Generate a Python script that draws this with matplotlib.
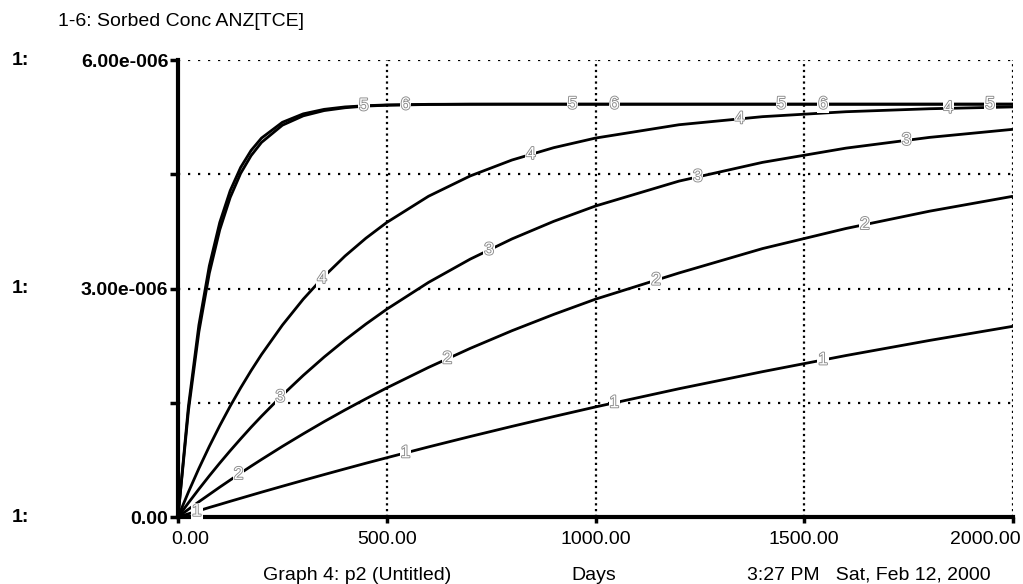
import numpy as np
import matplotlib.pyplot as plt
import matplotlib.patheffects as pe
from matplotlib.transforms import blended_transform_factory

plt.rcParams['font.family'] = ['Liberation Sans', 'DejaVu Sans']

# 数据（单位 1e-6）
days = [0, 25, 50, 75, 100, 125, 150, 175, 200, 250, 300, 350, 400, 450, 500,
        600, 700, 800, 900, 1000, 1200, 1400, 1600, 1800, 2000]
conc1 = [0, 0.042, 0.083, 0.125, 0.165, 0.206, 0.246, 0.286, 0.326, 0.404, 0.481, 0.557, 0.632, 0.706, 0.778,
         0.920, 1.057, 1.190, 1.319, 1.445, 1.684, 1.908, 2.120, 2.318, 2.504]
conc2 = [0, 0.101, 0.200, 0.296, 0.392, 0.485, 0.577, 0.667, 0.755, 0.927, 1.092, 1.252, 1.405, 1.552, 1.695,
         1.964, 2.214, 2.446, 2.660, 2.860, 3.204, 3.524, 3.788, 4.015, 4.211]
conc3 = [0, 0.186, 0.366, 0.540, 0.708, 0.870, 1.026, 1.178, 1.323, 1.600, 1.859, 2.100, 2.324, 2.533, 2.728,
         3.080, 3.386, 3.651, 3.882, 4.083, 4.410, 4.656, 4.843, 4.984, 5.090]
conc4 = [0, 0.328, 0.637, 0.927, 1.199, 1.455, 1.695, 1.921, 2.133, 2.519, 2.860, 3.160, 3.426, 3.660, 3.867,
         4.211, 4.478, 4.687, 4.849, 4.975, 5.150, 5.256, 5.321, 5.360, 5.384]
conc5 = [0, 1.455, 2.519, 3.297, 3.867, 4.284, 4.589, 4.812, 4.975, 5.182, 5.293, 5.352, 5.384, 5.400, 5.410,
         5.418, 5.420, 5.420, 5.420, 5.420, 5.420, 5.420, 5.420, 5.420, 5.420]
conc6 = [0, 1.395, 2.430, 3.200, 3.771, 4.195, 4.511, 4.744, 4.918, 5.144, 5.267, 5.336, 5.373, 5.395, 5.406,
         5.416, 5.419, 5.420, 5.420, 5.420, 5.420, 5.420, 5.420, 5.420, 5.420]
series = [conc1, conc2, conc3, conc4, conc5, conc6]

# 曲线编号标记的位置（天）
label_days = [
    [45, 545, 1045, 1545],
    [145, 645, 1145, 1645],
    [245, 745, 1245, 1745],
    [345, 845, 1345, 1845],
    [445, 945, 1445, 1945],
    [545, 1045, 1545],
]

x_ticks = [0, 500, 1000, 1500, 2000]
x_labels = ['0.00', '500.00', '1000.00', '1500.00', '2000.00']
y_ticks = [0, 1.5e-6, 3e-6, 4.5e-6, 6e-6]
y_labels = ['0.00', '', '3.00e-006', '', '6.00e-006']

fig = plt.figure(figsize=(10.23, 5.84), dpi=100)
ax = fig.add_axes([178 / 1023, 1 - 517 / 584, 835 / 1023, 457 / 584])

fs = 14
days = np.array(days)
for i, s in enumerate(series):
    y = np.array(s) * 1e-6
    ax.plot(days, y, color='black', lw=2, zorder=3, solid_capstyle='butt')
    for d in label_days[i]:
        ax.text(d, np.interp(d, days, y), str(i + 1), ha='center', va='center',
                fontsize=12.5, color='white', zorder=5,
                path_effects=[pe.withStroke(linewidth=1.3, foreground='#8a8a8a')],
                bbox=dict(boxstyle='square,pad=0.05', fc='white', ec='none'))

# 网格（点线）
for yv in y_ticks[1:]:
    ax.axhline(yv, color='black', lw=1.6, ls=(0, (1, 3.5)), zorder=2)
for xv in x_ticks[1:]:
    ax.axvline(xv, color='black', lw=1.6, ls=(0, (1, 1.6)), zorder=2)

ax.set_xlim(0, 2000)
ax.set_ylim(0, 6e-6)
for side in ['top', 'right']:
    ax.spines[side].set_visible(False)
ax.spines['left'].set_linewidth(3)
ax.spines['bottom'].set_linewidth(3)

ax.set_yticks(y_ticks)
ax.set_yticklabels(y_labels, fontsize=fs, fontweight='bold')
ax.set_xticks(x_ticks)
ax.set_xticklabels([])
ax.tick_params(axis='y', length=6, width=2.5, pad=1)
ax.tick_params(axis='x', length=4, width=2.5)

# x 轴刻度文字
tr = blended_transform_factory(ax.transData, ax.transAxes)
offsets = [12, 0, 0, 0, -28]
for xv, lab, off in zip(x_ticks, x_labels, offsets):
    ax.text(xv + off * 2000 / 835, -0.05, lab, transform=tr, ha='center', va='center', fontsize=fs)

# "1:" 行标
tr2 = blended_transform_factory(fig.transFigure, ax.transData)
for yv, lab in zip(y_ticks, y_labels):
    if lab:
        fig.text(12 / 1023, yv, '1:', transform=tr2, ha='left', va='center', fontsize=fs, fontweight='bold')

fig.text(58 / 1023, 1 - 22 / 584, '1-6: Sorbed Conc ANZ[TCE]', ha='left', va='center', fontsize=fs)
fig.text(357 / 1023, 1 - 575 / 584, 'Graph 4: p2 (Untitled)', ha='center', va='center', fontsize=fs)
fig.text(594 / 1023, 1 - 575 / 584, 'Days', ha='center', va='center', fontsize=fs)
fig.text(869 / 1023, 1 - 575 / 584, '3:27 PM   Sat, Feb 12, 2000', ha='center', va='center', fontsize=fs)

fig.savefig('out.png', dpi=100)
